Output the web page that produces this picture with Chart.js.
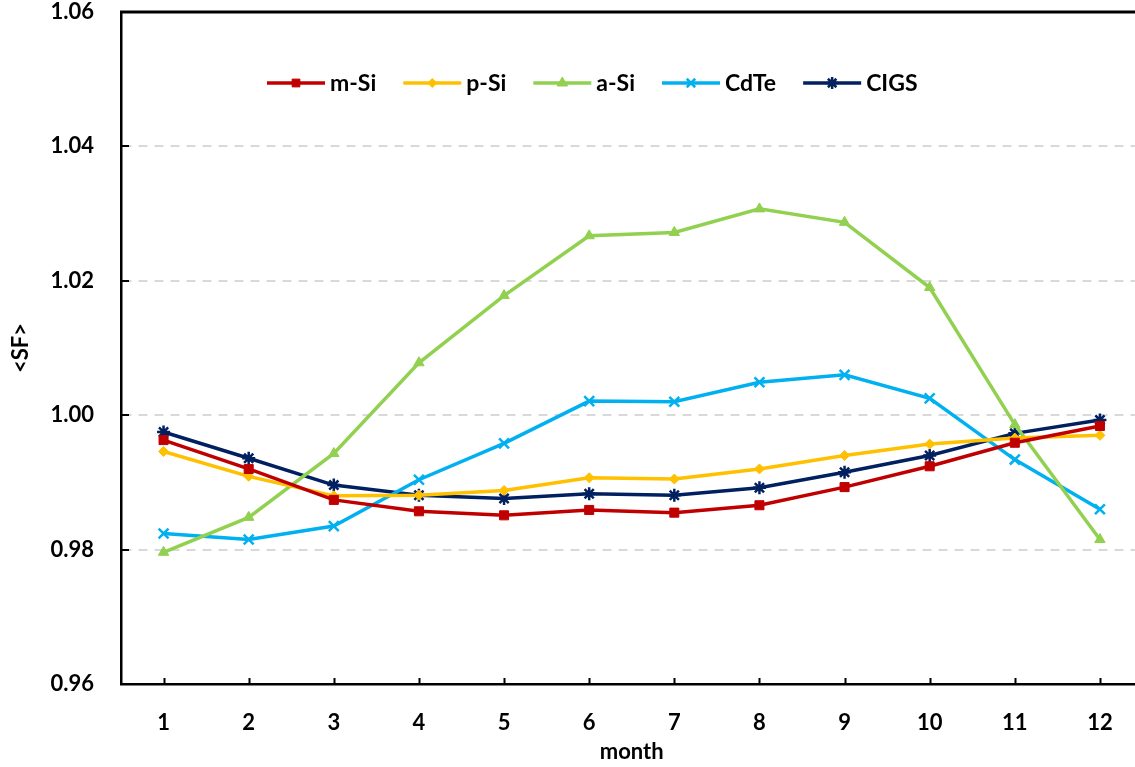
<!DOCTYPE html>
<html>
<head>
<meta charset="utf-8">
<script src="https://cdn.jsdelivr.net/npm/chart.js@4/dist/chart.umd.min.js"></script>
<style>
  html, body { margin: 0; padding: 0; background: #fff; overflow: hidden; }
  #wrap { width: 1152px; height: 767px; }
</style>
</head>
<body>
<div id="wrap"><canvas id="c" width="1152" height="767"></canvas></div>
<script>
// Monthly mean spectral factor <SF> per PV technology
const months = ['1','2','3','4','5','6','7','8','9','10','11','12'];
const mSi  = [0.9963, 0.9920, 0.9874, 0.9857, 0.9851, 0.9859, 0.9855, 0.9866, 0.9893, 0.9924, 0.9959, 0.9984];
const pSi  = [0.9946, 0.9909, 0.9880, 0.9881, 0.9888, 0.9907, 0.9905, 0.9920, 0.9940, 0.9957, 0.9966, 0.9970];
const aSi  = [0.9796, 0.9848, 0.9943, 1.0078, 1.0178, 1.0267, 1.0272, 1.0307, 1.0287, 1.0190, 0.9986, 0.9815];
const CdTe = [0.9824, 0.9815, 0.9835, 0.9904, 0.9958, 1.0021, 1.0020, 1.0049, 1.0060, 1.0025, 0.9934, 0.9860];
const CIGS = [0.9975, 0.9936, 0.9896, 0.9881, 0.9876, 0.9883, 0.9881, 0.9892, 0.9915, 0.9940, 0.9973, 0.9993];
const yMin = 0.96, yMax = 1.06, yStep = 0.02;

const FONT = 'Lato, "Open Sans", sans-serif';

function series(label, data, color, style, radius, legendRadius) {
  return {
    label, data,
    borderColor: color, backgroundColor: color,
    pointStyle: style, pointRadius: radius, pointHoverRadius: radius,
    pointBorderColor: color, pointBackgroundColor: color,
    pointBorderWidth: (style === 'crossRot' || style === 'star') ? 2.5 : 1,
    borderWidth: 3.5, tension: 0, fill: false,
    legendRadius
  };
}

// Legend drawn as line + marker + label, placed inside the plot area
const innerLegend = {
  id: 'innerLegend',
  afterDraw(chart) {
    const ctx = chart.ctx, area = chart.chartArea;
    const y = area.top + 71;
    let x = area.left + 146;
    ctx.save();
    ctx.font = 'bold 23px ' + FONT;
    ctx.textBaseline = 'middle';
    chart.data.datasets.forEach((ds) => {
      const lineLen = 58;
      ctx.strokeStyle = ds.borderColor;
      ctx.fillStyle = ds.borderColor;
      ctx.lineWidth = 3.5;
      ctx.beginPath();
      ctx.moveTo(x, y);
      ctx.lineTo(x + lineLen, y);
      ctx.stroke();
      ctx.lineWidth = ds.pointBorderWidth;
      Chart.helpers.drawPoint(ctx, {
        pointStyle: ds.pointStyle, radius: ds.legendRadius, rotation: 0,
        borderWidth: ds.pointBorderWidth
      }, x + lineLen / 2, y);
      ctx.fillStyle = '#000';
      ctx.fillText(ds.label, x + lineLen + 5, y + 1);
      x += lineLen + 5 + ctx.measureText(ds.label).width + 27;
    });
    ctx.restore();
  }
};

// Short inward tick marks and the top frame line
const frame = {
  id: 'frame',
  afterDraw(chart) {
    const ctx = chart.ctx, area = chart.chartArea;
    const xs = chart.scales.x, ys = chart.scales.y;
    ctx.save();
    ctx.strokeStyle = '#000';
    ctx.lineWidth = 2;
    ctx.beginPath();
    xs.ticks.forEach((t, i) => {
      const px = Math.round(xs.getPixelForTick(i)) + 0.5;
      ctx.moveTo(px, area.bottom);
      ctx.lineTo(px, area.bottom - 6);
    });
    ys.ticks.forEach((t, i) => {
      const py = Math.round(ys.getPixelForTick(i));
      ctx.moveTo(area.left, py);
      ctx.lineTo(area.left + 8, py);
    });
    ctx.stroke();
    ctx.lineWidth = 3;
    ctx.beginPath();
    ctx.moveTo(area.left - 1, area.top);
    ctx.lineTo(area.right, area.top);
    ctx.stroke();
    ctx.restore();
  }
};

new Chart(document.getElementById('c'), {
  type: 'line',
  data: {
    labels: months,
    datasets: [
      series('m-Si', mSi, '#c00000', 'rect', 6.4, 5.5),
      series('p-Si', pSi, '#ffc000', 'rectRot', 5, 4.5),
      series('a-Si', aSi, '#92d050', 'triangle', 6, 6),
      series('CdTe', CdTe, '#00b0f0', 'crossRot', 7, 6),
      series('CIGS', CIGS, '#002060', 'star', 6.5, 6)
    ]
  },
  options: {
    responsive: false,
    animation: false,
    events: [],
    layout: { padding: { top: 12, left: 0, right: 0, bottom: 0 } },
    plugins: { legend: { display: false }, tooltip: { enabled: false } },
    scales: {
      x: {
        offset: true,
        grid: { display: false, drawTicks: false },
        border: { display: true, color: '#000', width: 2.5 },
        ticks: { color: '#000', font: { family: FONT, size: 22, weight: 'bold' }, padding: 26, maxRotation: 0 },
        title: { display: true, text: 'month', color: '#000', font: { family: FONT, size: 22, weight: 'bold' }, padding: { top: 0, bottom: 2 } },
        afterFit(scale) { scale.height = 83; scale.paddingLeft = 0; scale.paddingRight = 0; }
      },
      y: {
        min: yMin, max: yMax,
        grid: {
          drawTicks: false,
          lineWidth: 2,
          color: (c) => (c.tick && (Math.abs(c.tick.value - yMin) < 1e-9 || Math.abs(c.tick.value - yMax) < 1e-9)) ? 'rgba(0,0,0,0)' : '#d9d9d9'
        },
        border: { display: true, color: '#000', width: 2.5, dash: [9, 7] },
        ticks: {
          stepSize: yStep, color: '#000', padding: 27,
          font: { family: FONT, size: 22, weight: 'bold' },
          callback: (v) => Number(v).toFixed(2)
        },
        title: { display: true, text: '<SF>', color: '#000', font: { family: FONT, size: 22, weight: 'bold' }, padding: { top: 8, bottom: 0 } },
        afterFit(scale) { scale.width = 121; scale.paddingTop = 0; scale.paddingBottom = 0; }
      }
    }
  },
  plugins: [innerLegend, frame]
});
</script>
</body>
</html>
